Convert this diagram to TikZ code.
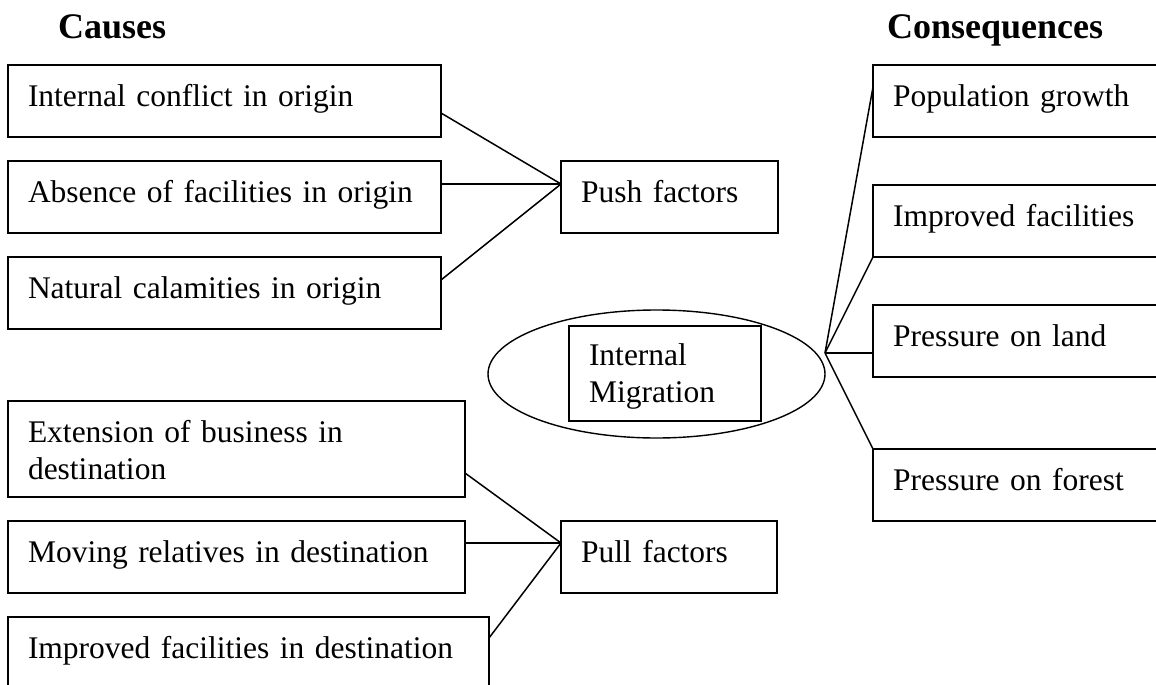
\documentclass[tikz,border=0pt]{standalone}
\usepackage{fontspec}
\setmainfont{Liberation Serif}
\usetikzlibrary{calc,shapes.geometric}
\newcommand\bodyfont{\fontsize{31.5}{37.5}\selectfont}
\newcommand\titlefont{\fontsize{36}{42}\selectfont\bfseries}
\tikzset{
  tbox/.style={draw, line width=1.9pt, anchor=north west, align=left,
    inner xsep=20pt, inner ysep=0pt, outer sep=0pt, font=\bodyfont,
    text height=41pt, text depth=31pt},
  conn/.style={line width=1.5pt},
  ttl/.style={anchor=base west, inner sep=0pt, font=\titlefont},
}
\begin{document}
\begin{tikzpicture}[x=1pt,y=-1pt]
\clip (0,0) rectangle (1156,685);
\fill[white] (0,0) rectangle (1156,685);
% titles
\node[ttl] (tc) at (58,38) {Causes};
\node[ttl] (tq) at (887,38) {Consequences};
% causes boxes
\node[tbox, text width=393pt] (c1) at (8,65) {Internal conflict in origin};
\node[tbox, text width=393pt] (c2) at (8,161) {Absence of facilities in origin};
\node[tbox, text width=393pt] (c3) at (8,257) {Natural calamities in origin};
\node[tbox, text width=177pt] (push) at (561,161) {Push factors};
\node[tbox, text width=417pt, text depth=55pt] (c4) at (8,401) {Extension of business in\\destination};
\node[tbox, text width=417pt] (c5) at (8,521) {Moving relatives in destination};
\node[tbox, text width=441pt, text depth=60pt] (c6) at (8,617) {Improved facilities in destination};
\node[tbox, text width=176pt] (pull) at (561,521) {Pull factors};
% centre
\node[ellipse, draw, line width=1.4pt, minimum width=337pt, minimum height=128pt, inner sep=0pt, outer sep=0pt] (mig) at (656.5,374) {};
\node[tbox, text width=152pt, text height=39pt, text depth=56pt, fill=white] (im) at (569,326) {Internal\\Migration};
% consequences boxes
\node[tbox, text width=270pt] (r1) at (873,65) {Population growth};
\node[tbox, text width=270pt] (r2) at (873,185) {Improved facilities};
\node[tbox, text width=270pt] (r3) at (873,305) {Pressure on land};
\node[tbox, text width=270pt] (r4) at (873,449) {Pressure on forest};
% connectors
\coordinate (pushin) at ($(push.north west)+(0,23)$);
\coordinate (pullin) at ($(pull.north west)+(0,22)$);
\draw[conn] ($(c1.north east)+(0,48)$) -- (pushin);
\draw[conn] ($(c2.north east)+(0,23)$) -- (pushin);
\draw[conn] ($(c3.north east)+(0,23)$) -- (pushin);
\draw[conn] ($(c4.north east)+(0,72)$) -- (pullin);
\draw[conn] ($(c5.north east)+(0,22)$) -- (pullin);
\draw[conn] ($(c6.north east)+(0,21)$) -- (pullin);
\coordinate (cp) at ($(mig.east)+(0,-21)$);
\draw[conn] (cp) -- ($(r1.north west)+(0,22)$);
\draw[conn] (cp) -- (r2.south west);
\draw[conn] (cp) -- ($(r3.north west)+(0,48)$);
\draw[conn] (cp) -- (r4.north west);
\end{tikzpicture}
\end{document}
